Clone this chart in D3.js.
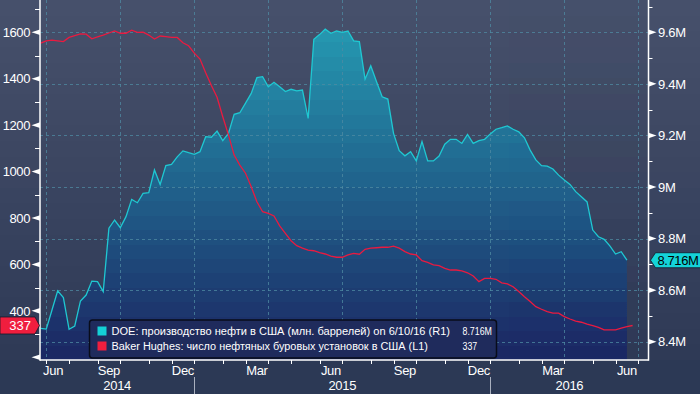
<!DOCTYPE html>
<html>
<head>
<meta charset="utf-8">
<script src="https://cdn.jsdelivr.net/npm/d3@7"></script>
<style>
  body { margin: 0; background: #2c3955; }
  svg { display: block; }
  text { font-family: "Liberation Sans", Arial, sans-serif; }
</style>
</head>
<body>
<svg width="700" height="394"></svg>
<script>
// weekly observations (Fridays), first one on 20 Jun 2014
const weekStart = new Date(2014, 5, 20);

// DOE: US crude production, mln bbl/day (R1)
const doeProd = [
  8.452, 8.449, 8.523, 8.597, 8.571, 8.448, 8.461, 8.558, 8.581, 8.635,
  8.633, 8.594, 8.840, 8.872, 8.842, 8.885, 8.952, 8.939, 8.975, 8.978,
  9.066, 9.010, 9.083, 9.088, 9.117, 9.140, 9.133, 9.127, 9.137, 9.195,
  9.193, 9.217, 9.180, 9.208, 9.282, 9.288, 9.325, 9.363, 9.424, 9.428,
  9.389, 9.406, 9.389, 9.370, 9.379, 9.373, 9.376, 9.266, 9.573, 9.591,
  9.612, 9.596, 9.605, 9.600, 9.605, 9.567, 9.564, 9.418, 9.470, 9.409,
  9.350, 9.341, 9.208, 9.141, 9.121, 9.137, 9.101, 9.176, 9.101, 9.101,
  9.120, 9.166, 9.185, 9.185, 9.169, 9.204, 9.169, 9.180, 9.185, 9.206,
  9.224, 9.230, 9.237, 9.224, 9.214, 9.191, 9.143, 9.105, 9.083, 9.081,
  9.070, 9.046, 9.027, 9.010, 8.982, 8.962, 8.942, 8.833, 8.807, 8.797,
  8.772, 8.740, 8.749, 8.716
];

// Baker Hughes: US oil rig count (L1)
const oilRigs = [
  1553, 1563, 1566, 1563, 1560, 1578, 1586, 1593, 1592, 1572,
  1580, 1588, 1597, 1606, 1596, 1596, 1609, 1600, 1601, 1588,
  1571, 1584, 1581, 1578, 1578, 1555, 1542, 1510, 1485, 1426,
  1371, 1320, 1236, 1158, 1071, 1028, 993, 935, 870, 827,
  820, 809, 766, 734, 702, 681, 670, 662, 659, 651,
  645, 636, 631, 631, 641, 648, 644, 665, 670, 672,
  674, 674, 679, 670, 655, 645, 641, 616, 609, 598,
  595, 583, 576, 576, 572, 564, 550, 526, 540, 540,
  536, 521, 516, 504, 483, 461, 440, 418, 407, 397,
  390, 390, 375, 365, 356, 351, 343, 336, 329, 318,
  318, 318, 326, 332, 337
];

const leftTicks = [1600, 1400, 1200, 1000, 800, 600, 400, 200];
const leftLabelled = [1600, 1400, 1200, 1000, 800, 600, 400];
const leftMinor = [1700, 1500, 1300, 1100, 900, 700, 500, 300];
const rightTicks = [9.6, 9.4, 9.2, 9.0, 8.8, 8.6, 8.4];
const rightMinor = [9.7, 9.5, 9.3, 9.1, 8.9, 8.7, 8.5];
const monthNames = ["Jan","Feb","Mar","Apr","May","Jun","Jul","Aug","Sep","Oct","Nov","Dec"];
const years = [2014, 2015, 2016];

const legendRows = [
  { text: "DOE: производство нефти в США (млн. баррелей) on 6/10/16 (R1)", value: "8.716M", color: "#14d0d6" },
  { text: "Baker Hughes: число нефтяных буровых установок в США (L1)", value: "337", color: "#f01e3e" }
];

const W = 700, H = 394;
const pLeft = 40, pRight = 648.5, pTop = 0, pBottom = 360;

const svg = d3.select("svg");
const defs = svg.append("defs");

const x = d3.scaleTime()
  .domain([new Date(2014, 5, 27), new Date(2016, 5, 24)])
  .range([46.3, 638.3]);
const yL = d3.scaleLinear().domain([1600, 200]).range([32.3, 357.3]);
const yR = d3.scaleLinear().domain([9.6, 8.4]).range([32.3, 341.7]);

const doe = doeProd.map((v, i) => ({ date: d3.timeDay.offset(weekStart, 7 * i), v }));
const rigs = oilRigs.map((v, i) => ({ date: d3.timeDay.offset(weekStart, 7 * i), v }));

// banded vertical gradients (Bloomberg style steps)
function banded(id, y0, y1, c0, c1, band) {
  const g = defs.append("linearGradient").attr("id", id)
    .attr("gradientUnits", "userSpaceOnUse")
    .attr("x1", 0).attr("x2", 0).attr("y1", y0).attr("y2", y1);
  const n = Math.ceil((y1 - y0) / band);
  const col = d3.interpolateRgb(c0, c1);
  for (let i = 0; i < n; i++) {
    const c = col((i + 0.5) / n);
    g.append("stop").attr("offset", i / n).attr("stop-color", c);
    g.append("stop").attr("offset", (i + 1) / n).attr("stop-color", c);
  }
}
banded("bgGrad", 0, pBottom, "#47516b", "#2e3956", 16);
banded("areaGrad", 28, pBottom, "#2599b1", "#1b2562", 15);

defs.append("clipPath").attr("id", "plotClip")
  .append("rect").attr("x", pLeft).attr("y", pTop)
  .attr("width", pRight - pLeft).attr("height", pBottom - pTop);

svg.append("rect").attr("width", W).attr("height", H).attr("fill", "#2c3955");
svg.append("rect").attr("width", W).attr("height", pBottom).attr("fill", "url(#bgGrad)");

const plot = svg.append("g").attr("clip-path", "url(#plotClip)");

// production area
plot.append("path")
  .datum(doe)
  .attr("fill", "url(#areaGrad)")
  .attr("d", d3.area().x(d => x(d.date)).y0(pBottom).y1(d => yR(d.v)));

// month ticks at last Friday of each month
const months = d3.timeMonth.range(new Date(2014, 4, 1), new Date(2016, 6, 1));
const lastFri = m => d3.timeFriday.floor(new Date(m.getFullYear(), m.getMonth() + 1, 0));
const shownMonths = months.filter(m => m >= new Date(2014, 5, 1));
const qMonths = shownMonths.filter(m => m.getMonth() % 3 === 2);
const quarterDates = qMonths.map(lastFri);

// grid
const gridStyle = g => g.attr("stroke", "#4f8ba3").attr("stroke-width", 1)
  .attr("stroke-dasharray", "3,3").attr("opacity", 0.75);
plot.append("g").call(gridStyle)
  .selectAll("line").data(rightTicks).join("line")
  .attr("x1", pLeft).attr("x2", pRight)
  .attr("y1", d => Math.round(yR(d)) + 0.5).attr("y2", d => Math.round(yR(d)) + 0.5);
plot.append("g").call(gridStyle)
  .selectAll("line").data(quarterDates).join("line")
  .attr("x1", d => Math.round(x(d)) + 0.5).attr("x2", d => Math.round(x(d)) + 0.5)
  .attr("y1", pTop).attr("y2", pBottom);

// lines
plot.append("path").datum(doe)
  .attr("fill", "none").attr("stroke", "#1fc8d2").attr("stroke-width", 1.3)
  .attr("d", d3.line().x(d => x(d.date)).y(d => yR(d.v)));
plot.append("path").datum(rigs)
  .attr("fill", "none").attr("stroke", "#ea1a40").attr("stroke-width", 1.3)
  .attr("d", d3.line().x(d => x(d.date)).y(d => yL(d.v)));

// axes frame
const axis = svg.append("g").attr("stroke", "#ffffff").attr("stroke-width", 1.5);
axis.append("line").attr("x1", pLeft).attr("x2", pLeft).attr("y1", 0).attr("y2", pBottom + 0.75);
axis.append("line").attr("x1", pRight).attr("x2", pRight).attr("y1", 0).attr("y2", pBottom + 0.75);
axis.append("line").attr("x1", pLeft).attr("x2", pRight).attr("y1", pBottom).attr("y2", pBottom);

// left axis
svg.append("g").selectAll("path").data(leftTicks).join("path")
  .attr("fill", "#fff")
  .attr("d", d => `M${pLeft},${yL(d) - 2.8}L${pLeft},${yL(d) + 2.8}L${pLeft - 8.5},${yL(d)}Z`);
svg.append("g").selectAll("line").data(leftMinor).join("line")
  .attr("stroke", "#fff").attr("stroke-width", 1)
  .attr("x1", pLeft - 5).attr("x2", pLeft)
  .attr("y1", d => Math.round(yL(d)) + 0.5).attr("y2", d => Math.round(yL(d)) + 0.5);
svg.append("g").selectAll("text").data(leftLabelled).join("text")
  .attr("x", 30).attr("y", d => yL(d)).attr("dy", "0.36em")
  .attr("text-anchor", "end").attr("fill", "#fff")
  .attr("font-size", 13).attr("letter-spacing", -0.4)
  .text(d => d);

// right axis
svg.append("g").selectAll("path").data(rightTicks).join("path")
  .attr("fill", "#fff")
  .attr("d", d => `M${pRight},${yR(d) - 2.8}L${pRight},${yR(d) + 2.8}L${pRight + 8},${yR(d)}Z`);
svg.append("g").selectAll("line").data(rightMinor).join("line")
  .attr("stroke", "#fff").attr("stroke-width", 1)
  .attr("x1", pRight).attr("x2", pRight + 4)
  .attr("y1", d => Math.round(yR(d)) + 0.5).attr("y2", d => Math.round(yR(d)) + 0.5);
svg.append("g").selectAll("text").data(rightTicks).join("text")
  .attr("x", 658).attr("y", d => yR(d)).attr("dy", "0.36em")
  .attr("fill", "#fff").attr("font-size", 13).attr("letter-spacing", -0.3)
  .text(d => d3.format(".2~f")(d) + "M");

// bottom axis
svg.append("g").selectAll("line").data(shownMonths.map(lastFri)).join("line")
  .attr("stroke", "#fff").attr("stroke-width", 1)
  .attr("x1", d => Math.round(x(d)) + 0.5).attr("x2", d => Math.round(x(d)) + 0.5)
  .attr("y1", pBottom).attr("y2", pBottom + 4);

svg.append("g").selectAll("text").data(qMonths).join("text")
  .attr("x", m => (x(lastFri(d3.timeMonth.offset(m, -1))) + x(lastFri(m))) / 2)
  .attr("y", 375).attr("text-anchor", "middle")
  .attr("fill", "#fff").attr("font-size", 13).attr("letter-spacing", -0.3)
  .text(m => monthNames[m.getMonth()])
  .each(function () {
    const w = this.getComputedTextLength();
    const cx = +this.getAttribute("x");
    if (cx - w / 2 < pLeft + 3) this.setAttribute("x", pLeft + 3 + w / 2);
  });

const yearBreaks = [new Date(2014, 11, 26), new Date(2015, 11, 25)];
svg.append("g").selectAll("line").data(yearBreaks).join("line")
  .attr("stroke", "#a9b0bf").attr("stroke-width", 1)
  .attr("x1", d => Math.round(x(d)) + 0.5).attr("x2", d => Math.round(x(d)) + 0.5)
  .attr("y1", 377).attr("y2", H);
const yearEdges = [pLeft, ...yearBreaks.map(x), pRight];
svg.append("g").selectAll("text").data(years).join("text")
  .attr("x", (d, i) => (yearEdges[i] + yearEdges[i + 1]) / 2)
  .attr("y", 390).attr("text-anchor", "middle")
  .attr("fill", "#fff").attr("font-size", 13).attr("letter-spacing", -0.3)
  .text(d => d);

// legend
const lg = svg.append("g");
lg.append("rect")
  .attr("x", 89.5).attr("y", 320).attr("width", 407).attr("height", 38).attr("rx", 3)
  .attr("fill", "#1f2b5c").attr("stroke", "#080c1a").attr("stroke-width", 1.5);
const row = lg.selectAll("g").data(legendRows).join("g")
  .attr("transform", (d, i) => `translate(0,${i * 15})`);
row.append("rect").attr("x", 97.5).attr("y", 326.5).attr("width", 9).attr("height", 9)
  .attr("fill", d => d.color);
row.append("text").attr("x", 111.5).attr("y", 335)
  .attr("fill", "#fff").attr("font-size", 10)
  .attr("font-family", "'DejaVu Sans Mono', 'Liberation Mono', monospace")
  .attr("textLength", d => d.text.length * 5.55).attr("lengthAdjust", "spacingAndGlyphs")
  .text(d => d.text);
row.append("text").attr("x", 462.5).attr("y", 335)
  .attr("fill", "#fff").attr("font-size", 10)
  .attr("font-family", "'DejaVu Sans Mono', 'Liberation Mono', monospace")
  .attr("textLength", d => d.value.length * 4.9).attr("lengthAdjust", "spacingAndGlyphs")
  .text(d => d.value);

// last-value flags
const lastRig = oilRigs[oilRigs.length - 1];
const ry = yL(lastRig);
svg.append("path")
  .attr("d", `M0,${ry - 8.5}L35,${ry - 8.5}L39.5,${ry}L35,${ry + 8.5}L0,${ry + 8.5}Z`)
  .attr("fill", "#f01e3e").attr("stroke", "#15192a").attr("stroke-width", 0.8);
svg.append("text").attr("x", 31).attr("y", ry).attr("dy", "0.36em")
  .attr("text-anchor", "end").attr("fill", "#fff").attr("font-size", 13)
  .text(lastRig);

const lastDoe = doeProd[doeProd.length - 1];
const cy = yR(lastDoe);
svg.append("path")
  .attr("d", `M650.5,${cy}L655.5,${cy - 7.5}L701,${cy - 7.5}L701,${cy + 7.5}L655.5,${cy + 7.5}Z`)
  .attr("fill", "#14d3d8").attr("stroke", "#15192a").attr("stroke-width", 0.8);
svg.append("text").attr("x", 657.5).attr("y", cy).attr("dy", "0.36em")
  .attr("fill", "#000").attr("font-size", 13).attr("letter-spacing", -0.4)
  .text(d3.format(".3f")(lastDoe) + "M");
</script>
</body>
</html>
